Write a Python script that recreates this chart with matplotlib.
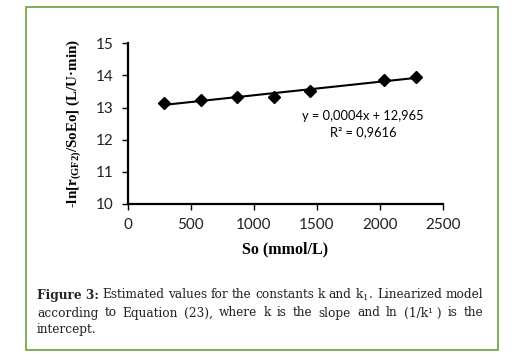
import numpy as np
import matplotlib
matplotlib.use('Agg')
import matplotlib.pyplot as plt
from matplotlib.patches import Rectangle

# Datos
so = [290, 580, 870, 1160, 1450, 2030, 2290]
ln_vals = [13.13, 13.25, 13.32, 13.34, 13.52, 13.86, 13.96]
xticks = [0, 500, 1000, 1500, 2000, 2500]
yticks = [10, 11, 12, 13, 14, 15]
ecuacion = 'y = 0,0004x + 12,965'
r2_texto = 'R² = 0,9616'

plt.rcParams['mathtext.default'] = 'regular'

fig = plt.figure(figsize=(5.15, 3.62), dpi=100)
ax = fig.add_axes([0.248, 0.4365, 0.6117, 0.4439])

# Linea de tendencia
p = np.polyfit(so, ln_vals, 1)
xt = np.array([so[0], so[-1]])
ax.plot(xt, np.polyval(p, xt), color='black', lw=1.5, zorder=2)
ax.plot(so, ln_vals, linestyle='none', marker='D', ms=6.5, color='black', zorder=3)

ax.set_xlim(0, 2500)
ax.set_ylim(10, 15)
ax.set_xticks(xticks)
ax.set_yticks(yticks)
ax.spines['top'].set_visible(False)
ax.spines['right'].set_visible(False)
ax.spines['left'].set_linewidth(1.6)
ax.spines['bottom'].set_linewidth(1.6)
ax.tick_params(direction='out', length=4, width=1, labelsize=11, pad=6)
for lab in ax.get_xticklabels() + ax.get_yticklabels():
    lab.set_fontfamily('Lato')
    lab.set_color('#222222')

ax.text(1867, 12.74, ecuacion, ha='center', va='center', fontsize=9.3, family='Lato')
ax.text(1867, 12.24, r2_texto, ha='center', va='center', fontsize=9.3, family='Lato')

fig.text(0.5534, 0.31, 'So (mmol/L)', ha='center', va='center', family='Liberation Serif',
         fontweight='bold', fontsize=11.5)
fig.text(0.142, 0.658, '-ln[r$_{(GF2)}$/SoEo] (L/U·min)', rotation=90, ha='center', va='center',
         family='Liberation Serif', fontweight='bold', fontsize=10.8)

# Marco verde
fig.patches.append(Rectangle((26 / 515, 1 - 350 / 362), 472 / 515, 343 / 362, transform=fig.transFigure,
                             fill=False, edgecolor='#77a64a', lw=1.3))

# Leyenda de la figura (justificada a mano)
lineas = [
    [('Figure 3:', 'bold'), ('Estimated', 'normal'), ('values', 'normal'), ('for', 'normal'), ('the', 'normal'),
     ('constants', 'normal'), ('k', 'normal'), ('and', 'normal'), ('k$_1$.', 'normal'), ('Linearized', 'normal'),
     ('model', 'normal')],
    [('according', 'normal'), ('to', 'normal'), ('Equation', 'normal'), ('(23),', 'normal'), ('where', 'normal'),
     ('k', 'normal'), ('is', 'normal'), ('the', 'normal'), ('slope', 'normal'), ('and', 'normal'), ('ln', 'normal'),
     ('(1/k¹ )', 'normal'), ('is', 'normal'), ('the', 'normal')],
    [('intercept.', 'normal')],
]
x0, x1 = 37, 483
ys = [295, 313, 329]
renderer = fig.canvas.get_renderer()
for linea, yl in zip(lineas, ys):
    textos = []
    for palabra, peso in linea:
        t = fig.text(0, 1 - yl / 362, palabra, fontsize=8.7, family='DejaVu Serif', fontweight=peso,
                     va='center', ha='left', color='#222222')
        textos.append(t)
    anchos = [t.get_window_extent(renderer).width for t in textos]
    if len(textos) > 1:
        hueco = (x1 - x0 - sum(anchos)) / (len(textos) - 1)
    else:
        hueco = 0
    x = x0
    for t, w in zip(textos, anchos):
        t.set_x(x / 515)
        x += w + hueco

fig.savefig('out.png', dpi=100)
